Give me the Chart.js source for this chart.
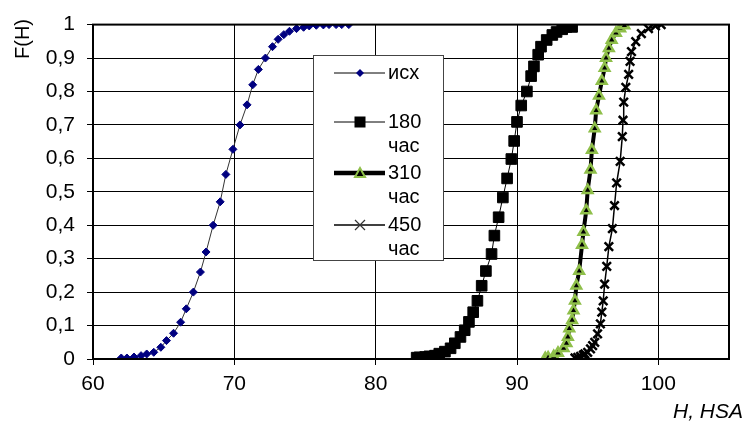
<!DOCTYPE html>
<html>
<head>
<meta charset="utf-8">
<script src="https://cdn.jsdelivr.net/npm/chart.js@4.4.0/dist/chart.umd.min.js"></script>
<style>
  body { margin: 0; background: #fff; }
  canvas { display: block; }
</style>
</head>
<body>
<canvas id="chart" width="745" height="425"></canvas>
<script>
// values
const xTicks = [60, 70, 80, 90, 100];
const yTicks = [0, 0.1, 0.2, 0.3, 0.4, 0.5, 0.6, 0.7, 0.8, 0.9, 1];

const h0 = [62.0, 62.4, 62.9, 63.4, 63.8, 64.3, 64.8, 65.2, 65.7, 66.2, 66.6, 67.1, 67.6, 68.0, 68.5, 69.0, 69.4, 69.9,
  70.4, 70.9, 71.3, 71.7, 72.2, 72.7, 73.1, 73.5, 73.9, 74.4, 74.9, 75.3, 75.8, 76.3, 76.7, 77.2, 77.6, 78.1];
const f0 = [0.003, 0.003, 0.006, 0.01, 0.015, 0.02, 0.035, 0.055, 0.077, 0.11, 0.15, 0.2, 0.26, 0.32, 0.40, 0.47, 0.552, 0.627,
  0.70, 0.76, 0.82, 0.866, 0.90, 0.934, 0.956, 0.97, 0.98, 0.988, 0.992, 0.996, 0.998, 0.999, 1, 1, 1, 1];

const h180 = [82.9, 83.1, 83.5, 83.8, 84.2, 84.5, 84.9, 85.3, 85.6, 86.0, 86.3, 86.6, 86.9, 87.2, 87.5, 87.8, 88.2, 88.4,
  88.7, 89.0, 89.3, 89.6, 89.8, 90.0, 90.3, 90.7, 91.0, 91.2, 91.5, 91.7, 92.1, 92.5, 92.8, 93.2, 93.5, 93.9];
const f180 = [0.004, 0.005, 0.006, 0.008, 0.010, 0.016, 0.022, 0.032, 0.047, 0.066, 0.086, 0.111, 0.140, 0.174, 0.219, 0.263, 0.314, 0.369,
  0.424, 0.483, 0.540, 0.598, 0.652, 0.709, 0.758, 0.800, 0.846, 0.875, 0.910, 0.934, 0.954, 0.969, 0.978, 0.986, 0.993, 0.993];

const h310 = [92.0, 92.2, 92.6, 92.9, 93.3, 93.5, 93.6, 93.7, 93.9, 94.0, 94.1, 94.2, 94.4, 94.6, 94.7, 94.9, 95.0, 95.2,
  95.3, 95.5, 95.6, 95.8, 96.0, 96.2, 96.3, 96.5, 96.7, 97.0, 97.3, 97.6];
const f310 = [0.002, 0.004, 0.008, 0.018, 0.032, 0.047, 0.066, 0.091, 0.116, 0.145, 0.174, 0.219, 0.263, 0.341, 0.38, 0.444, 0.505, 0.566,
  0.625, 0.689, 0.743, 0.787, 0.831, 0.87, 0.90, 0.929, 0.954, 0.975, 0.988, 0.997];

const h450 = [94.1, 94.3, 94.5, 94.7, 94.8, 95.0, 95.2, 95.35, 95.5, 95.7, 95.9, 96.0, 96.1, 96.2, 96.35, 96.5, 96.75, 96.9,
  97.05, 97.3, 97.45, 97.5, 97.55, 97.7, 97.9, 98.0, 98.1, 98.4, 98.8, 99.3, 99.8, 100.2];
const f450 = [0.003, 0.005, 0.008, 0.012, 0.015, 0.02, 0.03, 0.04, 0.05, 0.075, 0.105, 0.14, 0.174, 0.224, 0.277, 0.336, 0.39, 0.459,
  0.527, 0.591, 0.665, 0.714, 0.768, 0.812, 0.851, 0.89, 0.919, 0.949, 0.973, 0.988, 0.996, 1.0];

const labels = ['исх', '180\nчас', '310\nчас', '450\nчас'];

const FONT = "'Liberation Sans', Arial, sans-serif";
const green = '#8fbf4a';

function pts(xs, ys) {
  return xs.map((x, i) => ({ x: x, y: ys[i] }));
}

// marker drawing for the legend box
function marker(ctx, type, x, y) {
  ctx.save();
  if (type === 'diamond') {
    ctx.fillStyle = '#000080';
    ctx.beginPath();
    ctx.moveTo(x, y - 4); ctx.lineTo(x + 4, y); ctx.lineTo(x, y + 4); ctx.lineTo(x - 4, y);
    ctx.closePath(); ctx.fill();
  } else if (type === 'square') {
    ctx.fillStyle = '#000';
    ctx.fillRect(x - 5.5, y - 5.5, 11, 11);
  } else if (type === 'triangle') {
    ctx.fillStyle = '#000';
    ctx.strokeStyle = green;
    ctx.lineWidth = 2;
    ctx.beginPath();
    ctx.moveTo(x, y - 5); ctx.lineTo(x + 5, y + 4); ctx.lineTo(x - 5, y + 4);
    ctx.closePath(); ctx.fill(); ctx.stroke();
  } else if (type === 'cross') {
    ctx.strokeStyle = '#333';
    ctx.lineWidth = 1.2;
    ctx.beginPath();
    ctx.moveTo(x - 5, y - 5); ctx.lineTo(x + 5, y + 5);
    ctx.moveTo(x + 5, y - 5); ctx.lineTo(x - 5, y + 5);
    ctx.stroke();
  }
  ctx.restore();
}

const decor = {
  id: 'decor',
  afterDraw(chart) {
    const ctx = chart.ctx;
    const a = chart.chartArea;
    ctx.save();
    // frame round the plot
    ctx.strokeStyle = '#000';
    ctx.lineWidth = 2;
    ctx.strokeRect(a.left, a.top, a.right - a.left, a.bottom - a.top);

    // axis titles
    ctx.fillStyle = '#000';
    ctx.font = '20px ' + FONT;
    ctx.textAlign = 'center';
    ctx.textBaseline = 'middle';
    ctx.save();
    ctx.translate(23, 39);
    ctx.rotate(-Math.PI / 2);
    ctx.fillText('F(H)', 0, 0);
    ctx.restore();
    ctx.font = 'italic 21px ' + FONT;
    ctx.textAlign = 'right';
    ctx.fillText('H, HSA', 743, 412);

    // legend box
    ctx.fillStyle = '#fff';
    ctx.fillRect(313.5, 55.5, 130, 205);
    ctx.strokeStyle = '#444';
    ctx.lineWidth = 1;
    ctx.strokeRect(313.5, 55.5, 130, 205);

    const rows = [73, 122, 173, 225];
    const kinds = ['diamond', 'square', 'triangle', 'cross'];
    const widths = [1, 1, 4.5, 1.5];
    ctx.font = '20px ' + FONT;
    ctx.textAlign = 'left';
    ctx.textBaseline = 'middle';
    rows.forEach((y, i) => {
      ctx.strokeStyle = '#000';
      ctx.lineWidth = widths[i];
      ctx.beginPath();
      ctx.moveTo(334, y); ctx.lineTo(385, y);
      ctx.stroke();
      marker(ctx, kinds[i], 360, y);
      ctx.fillStyle = '#000';
      labels[i].split('\n').forEach((t, j) => ctx.fillText(t, 388, y + j * 24));
    });
    ctx.restore();
  }
};

new Chart(document.getElementById('chart').getContext('2d'), {
  type: 'scatter',
  data: {
    datasets: [
      {
        label: labels[0],
        data: pts(h0, f0),
        showLine: true,
        borderColor: '#333',
        borderWidth: 1,
        pointStyle: 'rectRot',
        pointRadius: 4,
        pointBackgroundColor: '#000080',
        pointBorderColor: '#000080',
        pointBorderWidth: 1
      },
      {
        label: labels[1],
        data: pts(h180, f180),
        showLine: true,
        borderColor: '#000',
        borderWidth: 1,
        pointStyle: 'rect',
        pointRadius: 7.5,
        pointBackgroundColor: '#000',
        pointBorderColor: '#000',
        pointBorderWidth: 1
      },
      {
        label: labels[2],
        data: pts(h310, f310),
        showLine: true,
        borderColor: '#000',
        borderWidth: 4,
        pointStyle: 'triangle',
        pointRadius: 5.5,
        pointBackgroundColor: '#000',
        pointBorderColor: green,
        pointBorderWidth: 2.5
      },
      {
        label: labels[3],
        data: pts(h450, f450),
        showLine: true,
        borderColor: '#000',
        borderWidth: 1.5,
        pointStyle: 'crossRot',
        pointRadius: 6,
        pointBorderColor: '#000',
        pointBorderWidth: 2.5
      }
    ]
  },
  options: {
    responsive: false,
    animation: false,
    devicePixelRatio: 1,
    layout: { padding: { top: 19, right: 16, left: 0, bottom: 0 } },
    plugins: {
      legend: { display: false },
      tooltip: { enabled: false }
    },
    scales: {
      x: {
        type: 'linear',
        min: 60,
        max: 105,
        afterBuildTicks: s => { s.ticks = xTicks.map(v => ({ value: v })); },
        afterFit: s => { s.height = 66; },
        grid: { color: '#000', lineWidth: 1, tickLength: 6, drawOnChartArea: true },
        border: { display: false },
        ticks: { color: '#000', font: { family: FONT, size: 21 }, padding: 7, maxRotation: 0 }
      },
      y: {
        type: 'linear',
        min: 0,
        max: 1,
        afterBuildTicks: s => { s.ticks = yTicks.map(v => ({ value: v })); },
        afterFit: s => { s.width = 93; },
        grid: { color: '#000', lineWidth: 1, tickLength: 6 },
        border: { display: false },
        ticks: {
          color: '#000',
          font: { family: FONT, size: 21 },
          padding: 12,
          callback: v => String(Math.round(v * 10) / 10).replace('.', ',')
        }
      }
    }
  },
  plugins: [decor]
});
</script>
</body>
</html>
